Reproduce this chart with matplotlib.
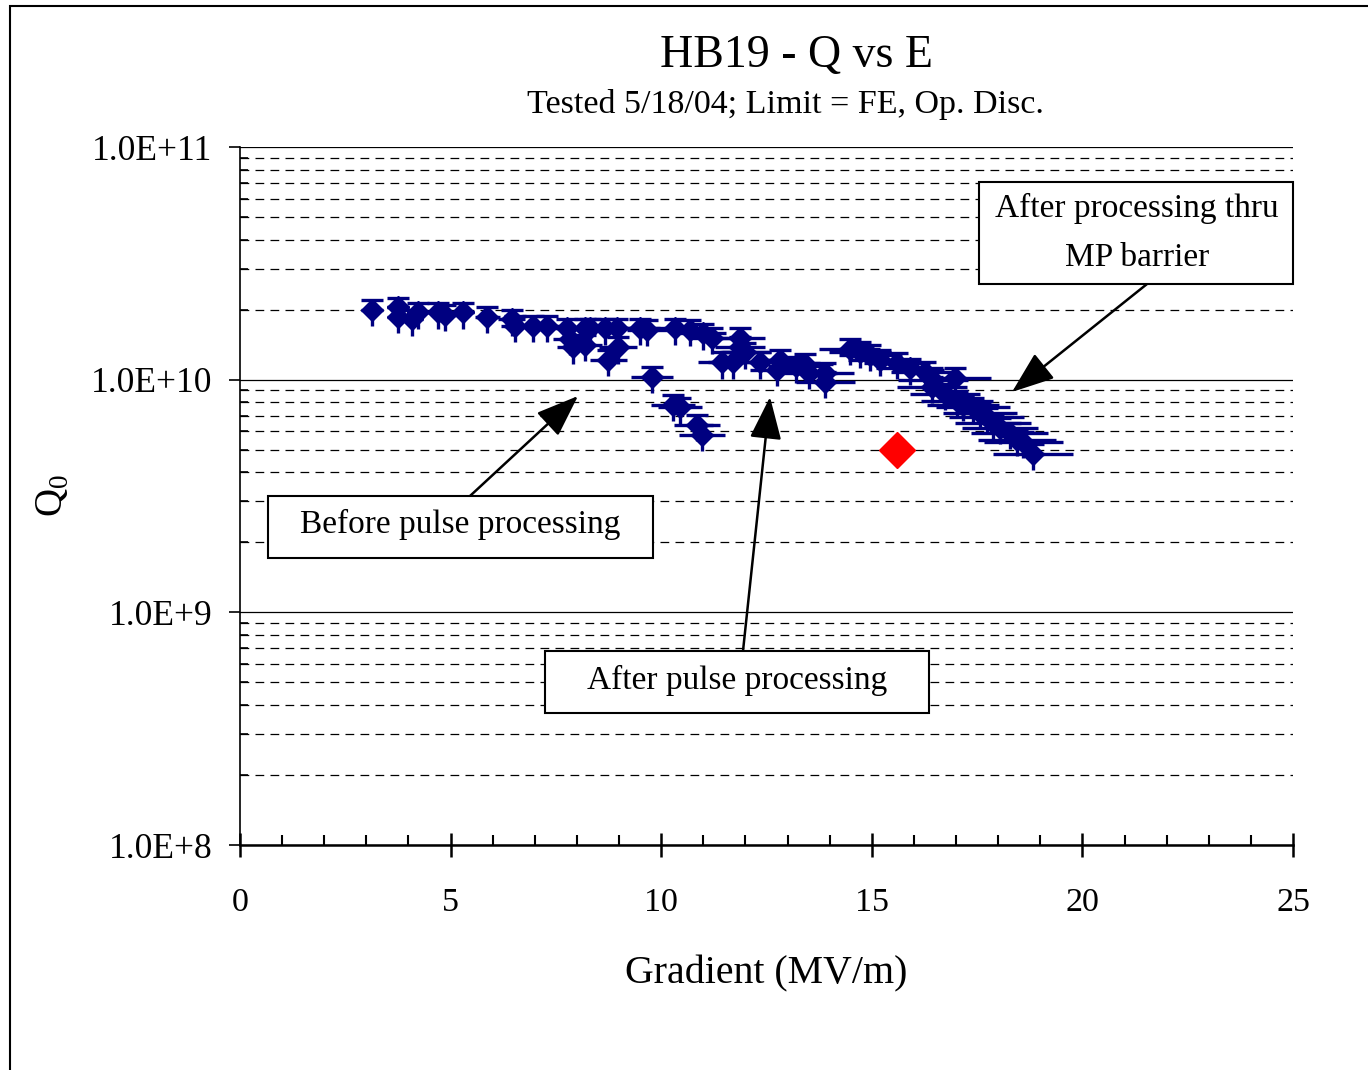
import numpy as np
import matplotlib
matplotlib.use("Agg")
import matplotlib.pyplot as plt
from matplotlib.patches import Rectangle
from matplotlib.ticker import LogLocator, FixedLocator, NullFormatter, FuncFormatter

plt.rcParams['font.family'] = ['Liberation Serif', 'DejaVu Serif']
plt.rcParams['mathtext.fontset'] = 'custom'
plt.rcParams['mathtext.rm'] = 'Liberation Serif'

# -------------------- Data --------------------
# before pulse processing
before_e = [3.13, 3.75, 3.75, 4.08, 4.23, 4.7, 4.87, 5.3, 5.87, 6.45, 6.53, 6.96, 7.28,
            7.76, 7.83, 7.91, 8.19, 8.19, 8.74, 8.98, 9.78, 10.28, 10.45, 10.85, 10.97]
before_q = [2.0e10, 2.05e10, 1.86e10, 1.82e10, 1.95e10, 1.95e10, 1.9e10, 1.95e10, 1.86e10,
            1.82e10, 1.7e10, 1.7e10, 1.7e10, 1.66e10, 1.5e10, 1.38e10, 1.66e10, 1.41e10,
            1.22e10, 1.38e10, 1.03e10, 7.8e9, 7.6e9, 6.4e9, 5.8e9]

# after pulse processing
pulse_e = [8.31, 8.67, 8.95, 9.5, 9.66, 10.33, 10.68, 11.0, 11.2, 11.44, 11.7, 11.87,
           11.87, 12.0, 12.35, 12.75, 12.82, 13.2, 13.5, 13.9]
pulse_q = [1.66e10, 1.66e10, 1.66e10, 1.66e10, 1.64e10, 1.66e10, 1.64e10, 1.58e10, 1.51e10,
           1.19e10, 1.19e10, 1.51e10, 1.38e10, 1.31e10, 1.19e10, 1.1e10, 1.22e10, 1.14e10,
           1.07e10, 9.8e9]

# after processing thru MP barrier
mp_e = [13.41, 13.89, 14.48, 14.72, 14.96, 15.19, 15.6, 15.9, 16.26, 16.45, 16.98, 16.43,
        16.74, 17.02, 17.17, 17.4, 17.57, 17.73, 17.88, 18.04, 18.28, 18.45, 18.6, 18.83]
mp_q = [1.17e10, 1.07e10, 1.36e10, 1.32e10, 1.28e10, 1.22e10, 1.18e10, 1.12e10, 1.08e10,
        1.0e10, 1.02e10, 9.3e9, 8.7e9, 8.1e9, 7.8e9, 7.6e9, 7.2e9, 6.9e9, 6.5e9, 6.2e9,
        5.9e9, 5.5e9, 5.4e9, 4.8e9]

# limit point
limit_e = [15.6]
limit_q = [5.0e9]

e_rel_err = 0.05      # relative gradient uncertainty
q_rel_err_up = 0.10   # relative Q0 uncertainty
q_rel_err_dn = 0.15

title = "HB19 - Q vs E"
subtitle = "Tested 5/18/04; Limit = FE, Op. Disc."

# -------------------- Figure --------------------
W, H = 1368, 1070
fig = plt.figure(figsize=(W / 100, H / 100), dpi=100)


def fx(px):
    return px / W


def fy(py):
    return 1 - py / H


ax = fig.add_axes([fx(240), fy(845), fx(1293) - fx(240), fy(147) - fy(845)])
ax.set_yscale('log')
ax.set_xlim(0, 25)
ax.set_ylim(1e8, 1e11)

navy = '#000080'
for e, q in [(before_e, before_q), (pulse_e, pulse_q), (mp_e, mp_q)]:
    e = np.array(e)
    q = np.array(q)
    ax.errorbar(e, q, xerr=e * e_rel_err, fmt='none', ecolor=navy, elinewidth=2.4,
                capsize=0, zorder=3)
    ax.errorbar(e, q, yerr=[q * q_rel_err_dn, np.zeros_like(q)], fmt='none', ecolor=navy,
                elinewidth=2.4, capsize=0, zorder=3)
    ax.errorbar(e, q, yerr=[np.zeros_like(q), q * q_rel_err_up], fmt='none', ecolor=navy,
                elinewidth=2.4, capsize=8, capthick=2.4, zorder=3)
    ax.plot(e, q, 'D', color=navy, ms=11, zorder=4)

ax.plot(limit_e, limit_q, 'D', color='#ff0000', ms=18, zorder=5)

# grid
ax.yaxis.set_major_locator(LogLocator(base=10, numticks=10))
ax.yaxis.set_minor_locator(LogLocator(base=10, subs=np.arange(2, 10), numticks=10))
ax.yaxis.set_major_formatter(FuncFormatter(lambda v, p: f"{v:.1E}".replace("E+0", "E+")))
ax.yaxis.set_minor_formatter(NullFormatter())
ax.grid(True, axis='y', which='major', color='black', lw=0.9, ls='-')
ax.grid(True, axis='y', which='minor', color='black', lw=0.9, ls=(0, (7, 5)))

ax.xaxis.set_major_locator(FixedLocator([0, 5, 10, 15, 20, 25]))
ax.xaxis.set_minor_locator(FixedLocator([v for v in range(26) if v % 5]))

ax.spines['top'].set_visible(False)
ax.spines['right'].set_visible(False)
ax.spines['left'].set_linewidth(1.2)
ax.spines['bottom'].set_linewidth(1.8)

ax.tick_params(axis='y', which='major', direction='out', length=8, width=1.2,
               labelsize=25.5, pad=12)
ax.tick_params(axis='y', which='minor', direction='in', length=6, width=1.2)
ax.tick_params(axis='x', which='major', direction='inout', length=17, width=1.8,
               labelsize=24.5, pad=22)
ax.tick_params(axis='x', which='minor', direction='in', length=7, width=1.5)

ax.set_xlabel("Gradient (MV/m)", fontsize=28.7, labelpad=27)
ax.set_ylabel(r"Q$_\mathrm{0}$", fontsize=28, labelpad=14)

fig.text(fx(797), fy(56), title, fontsize=33, ha='center', va='center')
fig.text(fx(785), fy(104), subtitle, fontsize=24.5, ha='center', va='center')

# annotation boxes
boxes = [
    ((979, 182, 1293, 284), "After processing thru\nMP barrier", (1137, 233)),
    ((268, 496, 653, 558), "Before pulse processing", (460, 524)),
    ((545, 651, 929, 713), "After pulse processing", (737, 680)),
]
for (x0, y0, x1, y1), txt, (tx, ty) in boxes:
    fig.patches.append(Rectangle((fx(x0), fy(y1)), fx(x1) - fx(x0), fy(y0) - fy(y1),
                                 transform=fig.transFigure, fill=True, facecolor='white',
                                 edgecolor='black', lw=1.5, zorder=5))
    fig.text(fx(tx), fy(ty), txt, fontsize=24, ha='center', va='center',
             linespacing=1.75, zorder=6)

arrows = [((1147, 284), (1012, 392)), ((470, 496), (578, 396)), ((743, 651), (770, 397))]
for (tx, ty), (hx, hy) in arrows:
    fig.add_artist(plt.Annotation('', xy=(fx(hx), fy(hy)), xytext=(fx(tx), fy(ty)),
                                  xycoords='figure fraction', textcoords='figure fraction',
                                  arrowprops=dict(arrowstyle='-|>,head_length=1.2,head_width=0.45',
                                                  color='black', lw=1.8, mutation_scale=22,
                                                  shrinkA=0, shrinkB=0)))

# outer frame
fig.patches.append(Rectangle((fx(10), fy(1100)), fx(1400) - fx(10), fy(6) - fy(1100),
                             transform=fig.transFigure, fill=False, edgecolor='black',
                             lw=1.5, clip_on=False))

fig.savefig("out.png", dpi=100, facecolor='white')
